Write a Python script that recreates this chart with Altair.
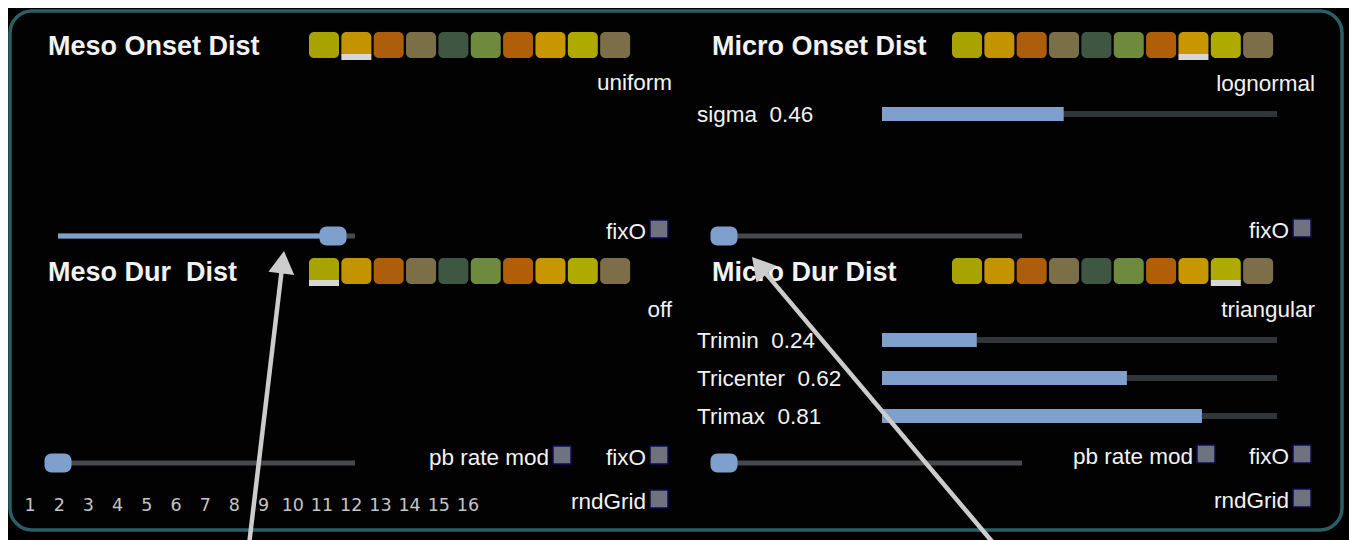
import math
import altair as alt
import pandas as pd

# ---------------- data ----------------
panel_titles = ["Meso Onset Dist", "Meso Dur \u00a0Dist", "Micro Onset Dist", "Micro Dur Dist"]
dist_names = ["uniform", "off", "lognormal", "triangular"]
swatch_colors = ["#a9a300", "#c39400", "#ad5e0d", "#7b6f48", "#3f5742",
                 "#6e8b3d", "#b05f08", "#c89700", "#afaa00", "#7b6e48"]
selected_swatch = [1, 0, 7, 8]
param_names = ["sigma", "Trimin", "Tricenter", "Trimax"]
param_values = [0.46, 0.24, 0.62, 0.81]
slider_values = [0.926, 0.0, 0.0, 0.0]
toggle_labels = ["fixO", "pb rate mod", "fixO", "rndGrid",
                 "fixO", "pb rate mod", "fixO", "rndGrid"]
grid_labels = [str(i) for i in range(1, 17)]

# ---------------- layout ----------------
W, H = 1341, 524
X0, Y0 = 8, 8
BG = "#020202"
WHITE = "#f2f2f2"
BLUE = "#7f9fcc"
TRACK = "#45484c"
PTRACK = "#2f3538"
FONT = "Liberation Sans"
LABEL_SIZE = 22.5

title_pos = [(48, 47), (48, 273), (712, 47), (712, 273)]
swatch_origin = [(309, 32), (309, 258), (952, 32), (952, 258)]
SW_PITCH, SW_W, SW_H = 32.35, 30, 26
dist_pos = [(672, 83), (672, 310), (1315, 84), (1315, 310)]
param_y = [114, 340, 378, 416]
PARAM_LABEL_X, PT0, PT1 = 697, 882, 1277
slider_tracks = [(58, 355, 236), (58, 355, 463), (724, 1022, 236), (724, 1022, 463)]
toggle_boxes = [(659, 229), (562, 455), (659, 455), (659, 499),
                (1302, 228), (1206, 454), (1302, 454), (1302, 498)]
BOX = 18
GRID_X0, GRID_PITCH, GRID_Y = 30, 29.2, 506
arrows = [((249, 545), (284, 251)), ((995, 545), (752, 257))]

xs = alt.Scale(domain=[X0, X0 + W], nice=False, zero=False)
ys = alt.Scale(domain=[Y0, Y0 + H], nice=False, zero=False, reverse=True)


def X(f="x"):
    return alt.X(f"{f}:Q", scale=xs, axis=None)


def Y(f="y"):
    return alt.Y(f"{f}:Q", scale=ys, axis=None)


def rects(df, **mk):
    return alt.Chart(df).mark_rect(**mk).encode(
        x=X("x"), x2="x2:Q", y=Y("y"), y2="y2:Q")


def texts(df, **mk):
    return alt.Chart(df).mark_text(**mk).encode(x=X(), y=Y(), text="text:N")


layers = []

# panel border
panel = pd.DataFrame([{"x": 10, "x2": 1342, "y": 11, "y2": 530}])
layers.append(rects(panel, fill=BG, stroke="#2b5f66", strokeWidth=3.5, cornerRadius=22))

# titles
layers.append(texts(pd.DataFrame([{"x": p[0], "y": p[1], "text": t}
                                  for t, p in zip(panel_titles, title_pos)]),
                    align="left", baseline="middle", font=FONT, fontSize=27,
                    fontWeight="bold", color=WHITE))

# swatches
sw_rows, ul_rows = [], []
for (ox, oy), sel in zip(swatch_origin, selected_swatch):
    for i, c in enumerate(swatch_colors):
        x = ox + i * SW_PITCH
        sw_rows.append({"x": x, "x2": x + SW_W, "y": oy, "y2": oy + SW_H, "c": c})
        if i == sel:
            ul_rows.append({"x": x, "x2": x + SW_W, "y": oy + 22, "y2": oy + 28})
layers.append(alt.Chart(pd.DataFrame(sw_rows)).mark_rect(cornerRadius=5).encode(
    x=X("x"), x2="x2:Q", y=Y("y"), y2="y2:Q", color=alt.Color("c:N", scale=None)))
layers.append(rects(pd.DataFrame(ul_rows), color="#d6d6d6"))

# distribution names
layers.append(texts(pd.DataFrame([{"x": p[0], "y": p[1], "text": t}
                                  for t, p in zip(dist_names, dist_pos)]),
                    align="right", baseline="middle", font=FONT, fontSize=LABEL_SIZE, color=WHITE))

# parameter bars
pt_rows, pf_rows, pl_rows = [], [], []
for n, v, y in zip(param_names, param_values, param_y):
    pt_rows.append({"x": PT0, "x2": PT1, "y": y - 3, "y2": y + 3})
    pf_rows.append({"x": PT0, "x2": PT0 + v * (PT1 - PT0), "y": y - 7, "y2": y + 7})
    pl_rows.append({"x": PARAM_LABEL_X, "y": y + 1, "text": f"{n}\u00a0 {v:.2f}"})
layers.append(rects(pd.DataFrame(pt_rows), color=PTRACK))
layers.append(rects(pd.DataFrame(pf_rows), color=BLUE))
layers.append(texts(pd.DataFrame(pl_rows), align="left", baseline="middle",
                    font=FONT, fontSize=LABEL_SIZE, color=WHITE))

# knob sliders
tr_rows, fl_rows, kn_rows = [], [], []
for (a, b, y), v in zip(slider_tracks, slider_values):
    cx = a + v * (b - a)
    tr_rows.append({"x": a, "x2": b, "y": y - 2.5, "y2": y + 2.5})
    if v > 0:
        fl_rows.append({"x": a, "x2": cx, "y": y - 2.5, "y2": y + 2.5})
    kn_rows.append({"x": cx - 13.5, "x2": cx + 13.5, "y": y - 9.5, "y2": y + 9.5})
layers.append(rects(pd.DataFrame(tr_rows), color=TRACK))
layers.append(rects(pd.DataFrame(fl_rows), color=BLUE))
layers.append(rects(pd.DataFrame(kn_rows), color=BLUE, cornerRadius=7))

# toggles
bx_rows, tl_rows = [], []
for lab, (bx, by) in zip(toggle_labels, toggle_boxes):
    bx_rows.append({"x": bx - BOX / 2, "x2": bx + BOX / 2, "y": by - BOX / 2, "y2": by + BOX / 2})
    tl_rows.append({"x": bx - BOX / 2 - 4, "y": by + 3, "text": lab})
layers.append(rects(pd.DataFrame(bx_rows), fill="#6f737e", stroke="#0c0c55", strokeWidth=1.5))
layers.append(texts(pd.DataFrame(tl_rows), align="right", baseline="middle",
                    font=FONT, fontSize=LABEL_SIZE, color=WHITE))

# grid numbers
layers.append(texts(pd.DataFrame([{"x": GRID_X0 + i * GRID_PITCH, "y": GRID_Y, "text": t}
                                  for i, t in enumerate(grid_labels)]),
                    align="center", baseline="middle", font="DejaVu Sans",
                    fontSize=17.5, color="#c4c4c4"))

# annotation arrows
sh_rows, hd_rows = [], []
HEAD = 26
for (tx, ty), (hx, hy) in arrows:
    dx, dy = hx - tx, hy - ty
    L = math.hypot(dx, dy)
    ux, uy = dx / L, dy / L
    h = math.sqrt(3) / 2 * HEAD / 2
    cx, cy = hx - ux * h, hy - uy * h
    sh_rows.append({"x": tx, "y": ty, "x2": hx - ux * HEAD * 0.7, "y2": hy - uy * HEAD * 0.7})
    ang = math.degrees(math.atan2(dx, -dy)) % 360
    hd_rows.append({"x": cx, "y": cy, "a": ang})
layers.append(alt.Chart(pd.DataFrame(sh_rows)).mark_rule(
    color="#cccccc", strokeWidth=4.5).encode(x=X("x"), y=Y("y"), x2="x2:Q", y2="y2:Q"))
layers.append(alt.Chart(pd.DataFrame(hd_rows)).mark_point(
    shape="triangle-up", filled=True, color="#cccccc", opacity=1, size=HEAD * HEAD).encode(
    x=X("x"), y=Y("y"), angle=alt.Angle("a:Q", scale=None)))

chart = alt.layer(*layers).properties(
    width=W, height=H, padding=0, background="#000000"
).configure_view(strokeWidth=0)

chart.save("out.html", embed_options={"renderer": "svg", "actions": False})
